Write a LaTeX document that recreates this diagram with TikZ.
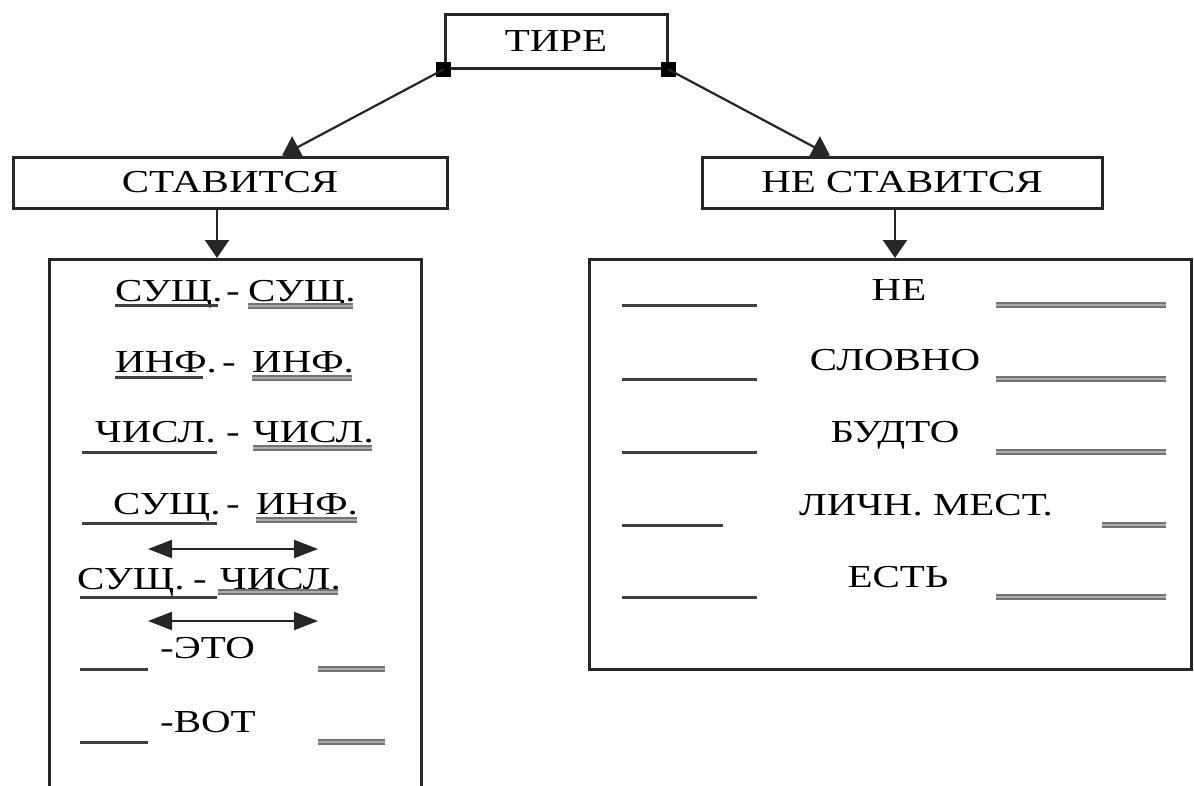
\documentclass[tikz,border=0pt]{standalone}
\usepackage{fontspec}
\setmainfont{Liberation Serif}[FakeStretch=1.28]
\usetikzlibrary{arrows.meta}
\begin{document}
\begin{tikzpicture}[x=1pt,y=-1pt,
  box/.style={draw=black!85, line width=3pt, inner sep=0pt, font=\fontsize{32}{38}\selectfont},
  txt/.style={inner sep=0pt, font=\fontsize{32}{38}\selectfont},
  conn/.style={draw=black!85, line width=2.2pt},
  arr/.style={conn, -{Triangle[length=18pt,width=24pt]}},
  darr/.style={conn, {Triangle[length=24pt,width=18pt]}-{Triangle[length=24pt,width=18pt]}},
  sq/.style={fill=black, minimum size=15pt, inner sep=0pt},
  ulone/.style={draw=black!75, line width=3pt},
  ultwo/.style={draw=black!55, line width=2.2pt, double=gray!65, double distance=1.2pt}
]
\fill[white] (0,0) rectangle (1194,785);
\useasboundingbox (0,0) rectangle (1194,785);

% boxes
\node[box, minimum width=222pt, minimum height=54pt] (tire) at (556,41) {ТИРЕ};
\node[box, minimum width=434pt, minimum height=51pt] (stav) at (230,182.5) {СТАВИТСЯ};
\node[box, minimum width=400pt, minimum height=51pt] (nestav) at (902,182.5) {НЕ СТАВИТСЯ};
\node[box, minimum width=372pt, minimum height=560pt, anchor=north west] (lbox) at (48,258) {};
\node[box, minimum width=602pt, minimum height=410pt, anchor=north west] (rbox) at (588,258) {};

\node[sq] (sql) at (tire.south west) {};
\node[sq] (sqr) at (tire.south east) {};

\coordinate (xl) at (282,0);
\coordinate (xr) at (830,0);
\coordinate (xlv) at (217,0);
\coordinate (xrv) at (895,0);
\draw[arr] (sql.center) -- (stav.north -| xl);
\draw[arr] (sqr.center) -- (nestav.north -| xr);
\draw[arr] (stav.south -| xlv) -- (lbox.north -| xlv);
\draw[arr] (nestav.south -| xrv) -- (rbox.north -| xrv);

% left list
\node[txt, anchor=base west] (r1a) at (115,301) {СУЩ.};
\node[txt, anchor=base] (r1d) at (233,301) {-};
\node[txt, anchor=base west] (r1b) at (248,301) {СУЩ.};
\draw[ulone] (115,305) -- (218,305);
\draw[ultwo] (248,306) -- (353,306);

\node[txt, anchor=base west] (r2a) at (115,372) {ИНФ.};
\node[txt, anchor=base] (r2d) at (229,372) {-};
\node[txt, anchor=base west] (r2b) at (252,372) {ИНФ.};
\draw[ulone] (115,377) -- (203,377);
\draw[ultwo] (252,378) -- (352,378);

\node[txt, anchor=base west] (r3a) at (95,442) {ЧИСЛ.};
\node[txt, anchor=base] (r3d) at (233,442) {-};
\node[txt, anchor=base west] (r3b) at (253,442) {ЧИСЛ.};
\draw[ulone] (82,452) -- (217,452);
\draw[ultwo] (253,448) -- (372,448);

\node[txt, anchor=base west] (r4a) at (113,514) {СУЩ.};
\node[txt, anchor=base] (r4d) at (233,514) {-};
\node[txt, anchor=base west] (r4b) at (256,514) {ИНФ.};
\draw[ulone] (82,523) -- (217,523);
\draw[ultwo] (256,520) -- (357,520);

\coordinate (da1) at (148,549);
\coordinate (db1) at (318,549);
\draw[darr] (da1) -- (db1);

\node[txt, anchor=base west] (r5a) at (77,589) {СУЩ.};
\node[txt, anchor=base] (r5d) at (200,589) {-};
\node[txt, anchor=base west] (r5b) at (220,589) {ЧИСЛ.};
\draw[ulone] (80,597) -- (217,597);
\draw[ultwo] (218,592) -- (338,592);

\coordinate (da2) at (148,621);
\coordinate (db2) at (318,621);
\draw[darr] (da2) -- (db2);

\node[txt, anchor=base west] (r6) at (160,658) {-ЭТО};
\draw[ulone] (80,669) -- (148,669);
\draw[ultwo] (318,669) -- (385,669);

\node[txt, anchor=base west] (r7) at (160,732) {-ВОТ};
\draw[ulone] (80,742) -- (148,742);
\draw[ultwo] (318,742) -- (385,742);

% right list
\node[txt, anchor=base] (q1) at (899,300) {НЕ};
\draw[ulone] (622,305) -- (757,305);
\draw[ultwo] (996,305) -- (1166,305);

\node[txt, anchor=base] (q2) at (895,370) {СЛОВНО};
\draw[ulone] (622,379) -- (757,379);
\draw[ultwo] (996,379) -- (1166,379);

\node[txt, anchor=base] (q3) at (895,442) {БУДТО};
\draw[ulone] (622,452) -- (757,452);
\draw[ultwo] (996,452) -- (1166,452);

\node[txt, anchor=base] (q4) at (926,515) {ЛИЧН. МЕСТ.};
\draw[ulone] (622,525) -- (723,525);
\draw[ultwo] (1102,525) -- (1166,525);

\node[txt, anchor=base] (q5) at (898,587) {ЕСТЬ};
\draw[ulone] (622,597) -- (757,597);
\draw[ultwo] (996,597) -- (1166,597);
\end{tikzpicture}
\end{document}
